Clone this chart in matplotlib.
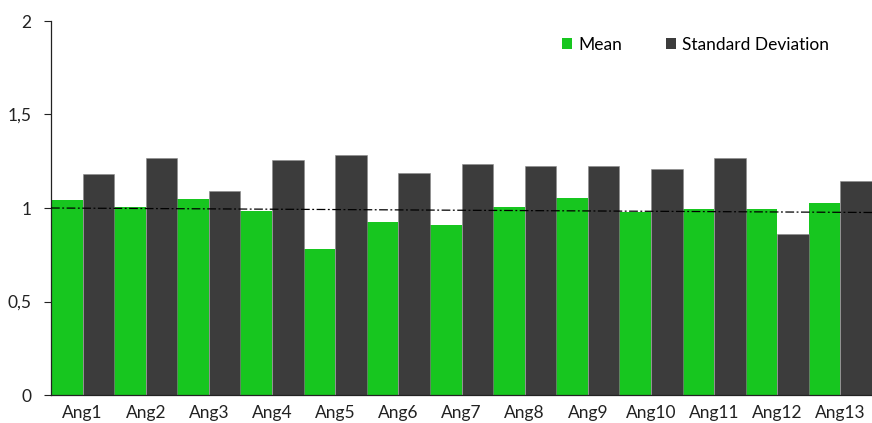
import numpy as np
import matplotlib
matplotlib.use('Agg')
import matplotlib.pyplot as plt
from matplotlib.patches import Patch
from matplotlib.ticker import FuncFormatter

plt.rcParams['font.family'] = ['Lato', 'DejaVu Sans']

# Per-angle statistics
labels = ['Ang%d' % i for i in range(1, 14)]
mean_vals = [1.043, 1.005, 1.048, 0.984, 0.779, 0.927, 0.909,
             1.004, 1.053, 0.977, 0.993, 0.995, 1.025]
std_vals = [1.180, 1.267, 1.090, 1.257, 1.285, 1.185, 1.235,
            1.225, 1.223, 1.210, 1.267, 0.859, 1.146]
# Reference line value at left and right ends of the plot
ref_line = [1.0, 0.976]

green = '#17c61f'
dark = '#3c3c3c'

fig = plt.figure(figsize=(8.72, 4.23), dpi=100)
ax = fig.add_axes([51 / 872, 28 / 423, 821 / 872, 374 / 423])

x = np.arange(len(labels))
w = 0.5
ax.bar(x - w / 2, mean_vals, width=w, color=green, edgecolor='none', zorder=2)
ax.bar(x + w / 2, std_vals, width=w, color=dark, edgecolor='#8a8a8a',
       linewidth=0.4, zorder=2)

ax.plot([-0.5, len(labels) - 0.5], ref_line, color='black', lw=0.9,
        ls=(0, (7, 2, 1.5, 2)), zorder=3)

ax.set_xlim(-0.5, len(labels) - 0.5)
ax.set_ylim(0, 2)
ax.set_yticks([0, 0.5, 1, 1.5, 2])
ax.yaxis.set_major_formatter(FuncFormatter(
    lambda v, p: ('%g' % v).replace('.', ',')))
ax.set_xticks(x)
ax.set_xticklabels(labels)

for s in ['top', 'right']:
    ax.spines[s].set_visible(False)
ax.spines['left'].set_color('#222222')
ax.spines['bottom'].set_color('#222222')
ax.spines['left'].set_linewidth(0.9)
ax.spines['bottom'].set_linewidth(0.9)
ax.tick_params(axis='y', length=5, width=0.8, labelsize=12.5, pad=9,
               colors='#222222')
ax.tick_params(axis='x', length=0, labelsize=12.5, pad=7, colors='#222222')

handles = [Patch(facecolor=green, label='Mean'),
           Patch(facecolor=dark, label='Standard Deviation')]
ax.legend(handles=handles, loc='center', bbox_to_anchor=(0.785, 0.936),
          ncol=2, frameon=False, fontsize=12.5, handlelength=0.6,
          handleheight=0.6, handletextpad=0.35, columnspacing=2.5)

fig.savefig('out.png', dpi=100)
